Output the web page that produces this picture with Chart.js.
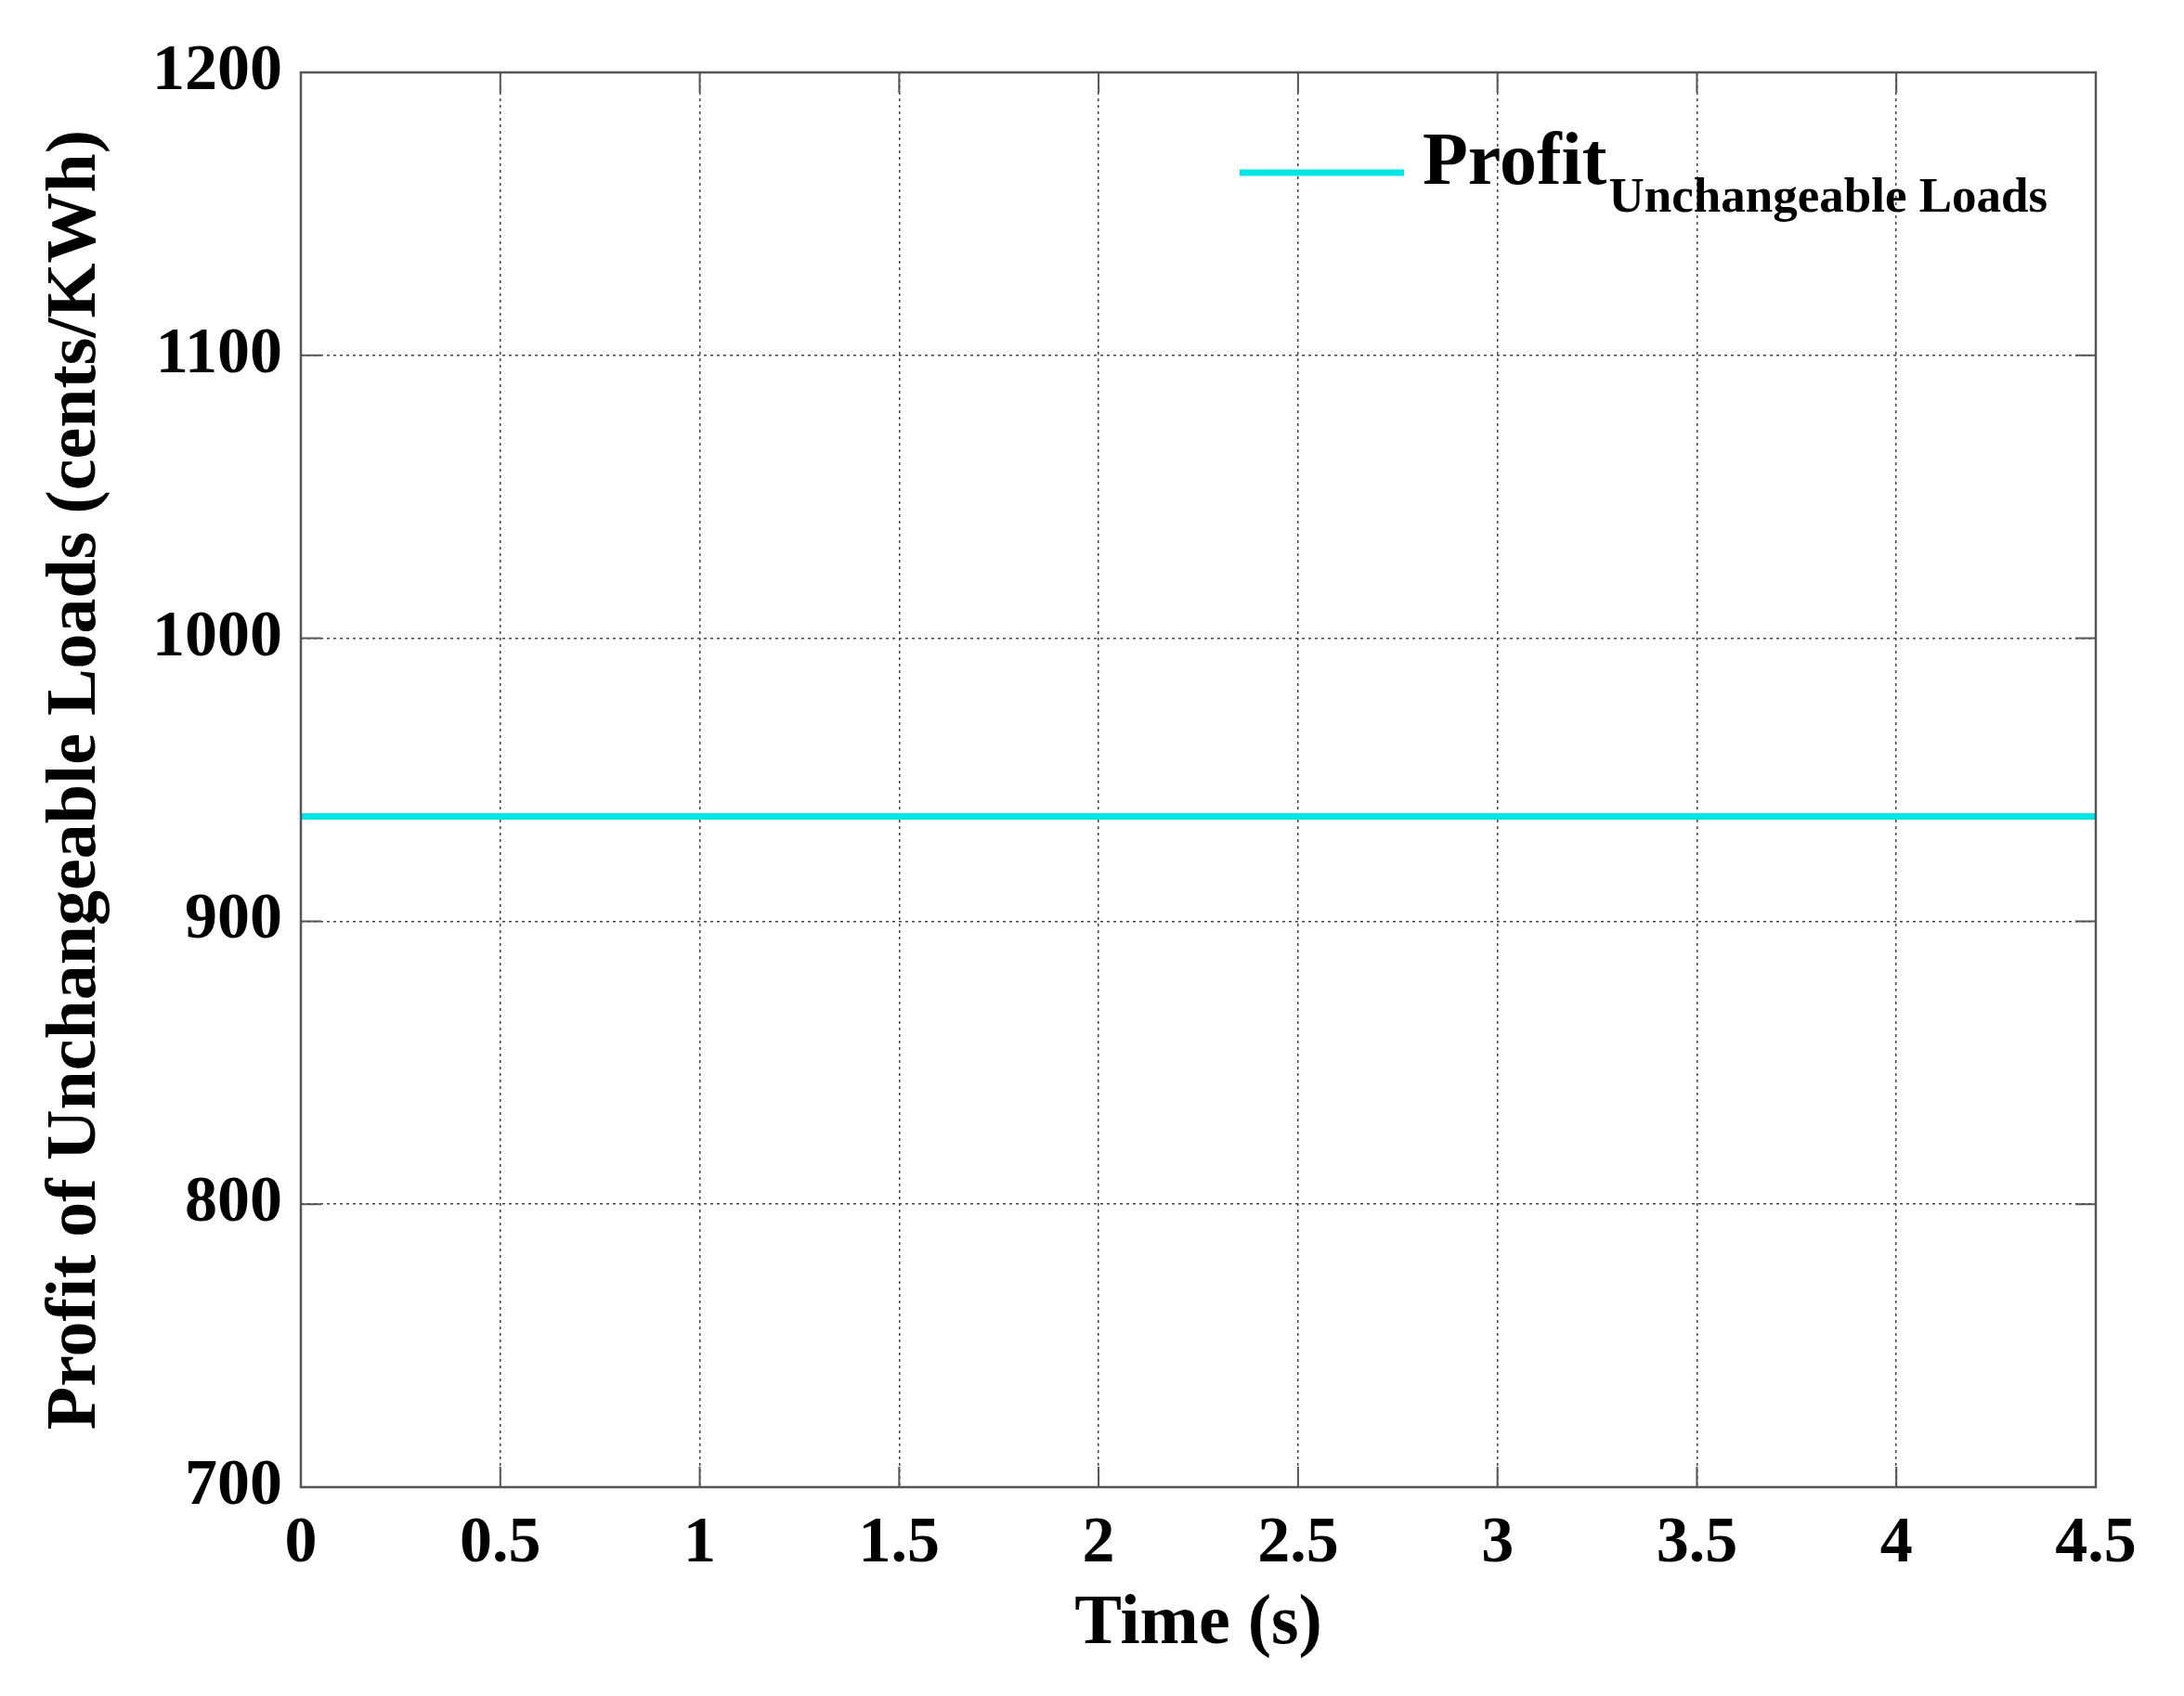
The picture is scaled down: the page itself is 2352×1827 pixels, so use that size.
<!DOCTYPE html>
<html><head><meta charset="utf-8">
<script src="https://cdn.jsdelivr.net/npm/chart.js@4"></script>
<style>html,body{margin:0;padding:0;background:#fff}#w{width:2352px;height:1827px}</style>
</head><body><div id="w"><canvas id="c"></canvas></div>
<script>
const timeValues = [0, 0.5, 1, 1.5, 2, 2.5, 3, 3.5, 4, 4.5];
const profitValues = [937, 937, 937, 937, 937, 937, 937, 937, 937, 937];
const xTicks = [0, 0.5, 1, 1.5, 2, 2.5, 3, 3.5, 4, 4.5];
const yTicks = [700, 800, 900, 1000, 1100, 1200];
const FONT = '"Liberation Serif","Times New Roman",serif';

const frame = {
  id: 'frame',
  afterDraw(ch) {
    const {ctx, chartArea: a, scales: {x, y}} = ch;
    ctx.save();
    ctx.strokeStyle = '#555'; ctx.lineWidth = 2.5; ctx.setLineDash([]);
    ctx.strokeRect(a.left, a.top, a.right - a.left, a.bottom - a.top);
    ctx.lineWidth = 2;
    xTicks.forEach(v => { const px = x.getPixelForValue(v);
      ctx.beginPath(); ctx.moveTo(px, a.bottom); ctx.lineTo(px, a.bottom - 22);
      ctx.moveTo(px, a.top); ctx.lineTo(px, a.top + 22); ctx.stroke(); });
    yTicks.forEach(v => { const py = y.getPixelForValue(v);
      ctx.beginPath(); ctx.moveTo(a.left, py); ctx.lineTo(a.left + 22, py);
      ctx.moveTo(a.right, py); ctx.lineTo(a.right - 22, py); ctx.stroke(); });
    const ds = ch.data.datasets[0];
    ctx.strokeStyle = ds.borderColor; ctx.lineWidth = 7;
    ctx.beginPath(); ctx.moveTo(1335, 186); ctx.lineTo(1512, 186); ctx.stroke();
    ctx.fillStyle = '#000'; ctx.textBaseline = 'alphabetic';
    ctx.font = 'bold 80px ' + FONT;
    ctx.fillText('Profit', 1532, 198);
    const w = ctx.measureText('Profit').width;
    ctx.font = 'bold 53px ' + FONT;
    ctx.fillText('Unchangeable Loads', 1532 + w + 2, 228);
    ctx.restore();
  }
};

new Chart(document.getElementById('c'), {
  type: 'line',
  data: { datasets: [{ label: 'Profit Unchangeable Loads',
    data: timeValues.map((t, i) => ({x: t, y: profitValues[i]})),
    borderColor: '#00e5e5', borderWidth: 7, pointRadius: 0, fill: false }] },
  options: {
    responsive: true, maintainAspectRatio: false, animation: false,
    devicePixelRatio: 1,
    layout: { padding: { top: 78, right: 95, left: 33, bottom: 27 } },
    plugins: { legend: { display: false }, tooltip: { enabled: false } },
    scales: {
      x: { type: 'linear', min: 0, max: 4.5,
        afterBuildTicks: s => { s.ticks = xTicks.map(v => ({value: v})); },
        afterFit: s => { s.height = 198; },
        grid: { color: '#444', lineWidth: 1.5, drawTicks: false },
        border: { display: false, dash: [3, 4] },
        ticks: { color: '#000', padding: 20, maxRotation: 0, font: { family: FONT, size: 70, weight: 'bold' }, callback: v => String(v) },
        title: { display: true, text: 'Time (s)', color: '#000', padding: { top: 0 }, font: { family: FONT, size: 76, weight: 'bold' } } },
      y: { min: 700, max: 1200,
        afterBuildTicks: s => { s.ticks = yTicks.map(v => ({value: v})); },
        afterFit: s => { s.width = 291; },
        grid: { color: '#444', lineWidth: 1.5, drawTicks: false },
        border: { display: false, dash: [3, 4] },
        ticks: { color: '#000', padding: 20, font: { family: FONT, size: 70, weight: 'bold' }, callback: v => String(v) },
        title: { display: true, text: 'Profit of Unchangeable Loads (cents/KWh)', color: '#000', padding: { bottom: 20 }, font: { family: FONT, size: 76, weight: 'bold' } } }
    }
  },
  plugins: [frame]
});
</script></body></html>
